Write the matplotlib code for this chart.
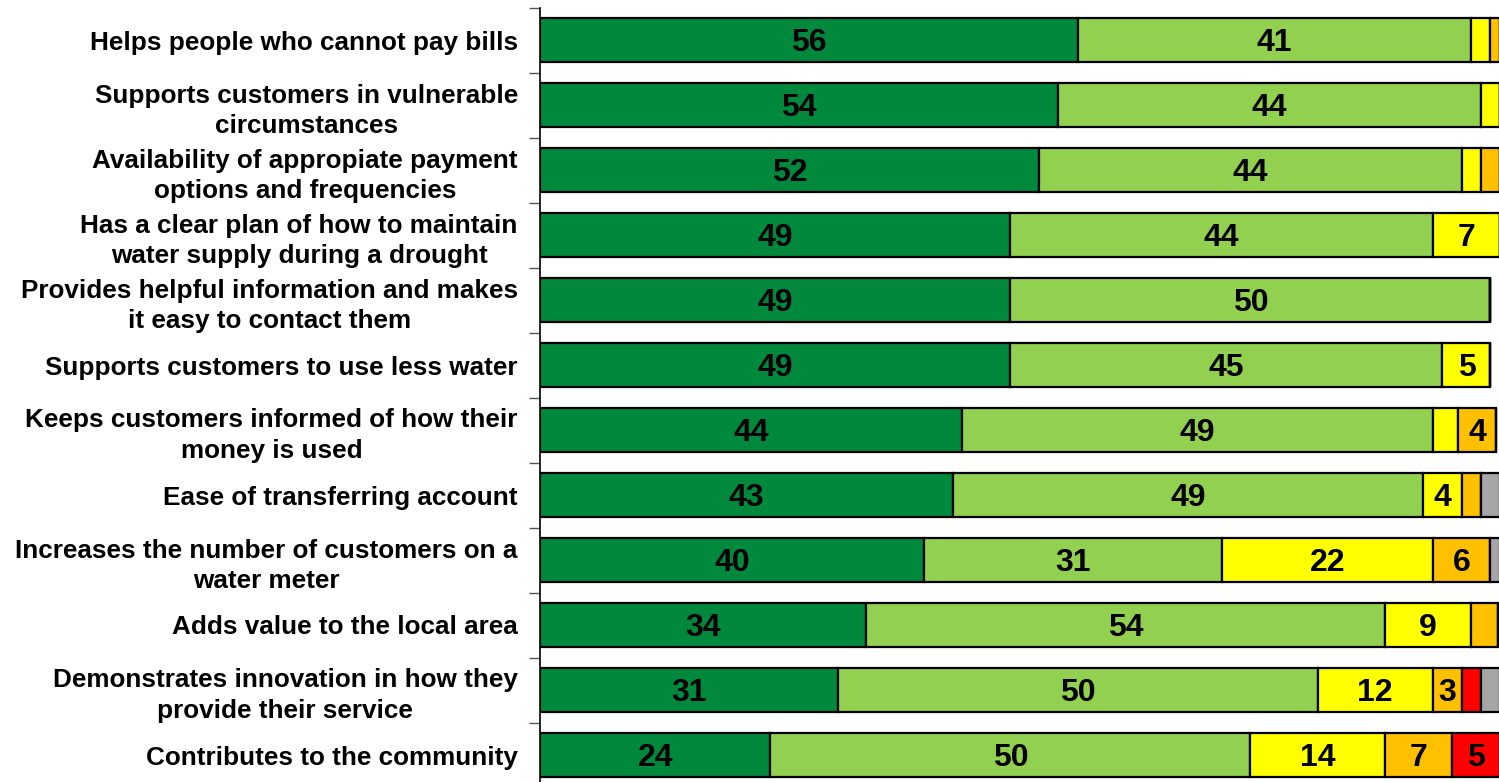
import matplotlib
matplotlib.use("Agg")
import matplotlib.pyplot as plt
import matplotlib.transforms as mtransforms
import numpy as np

categories = [
    "Helps people who cannot pay bills",
    "Supports customers in vulnerable\ncircumstances",
    "Availability of appropiate payment\noptions and frequencies",
    "Has a clear plan of how to maintain\nwater supply during a drought",
    "Provides helpful information and makes\nit easy to contact them",
    "Supports customers to use less water",
    "Keeps customers informed of how their\nmoney is used",
    "Ease of transferring account",
    "Increases the number of customers on a\nwater meter",
    "Adds value to the local area",
    "Demonstrates innovation in how they\nprovide their service",
    "Contributes to the community",
]

very_good = [56, 54, 52, 49, 49, 49, 44, 43, 40, 34, 31, 24]
fairly_good = [41, 44, 44, 44, 50, 45, 49, 49, 31, 54, 50, 50]
neutral = [2, 2, 2, 7, 0, 5, 2.6, 4, 22, 9, 12, 14]
fairly_poor = [1, 0, 2, 0, 0, 0, 4, 2, 6, 2.8, 3, 7]
very_poor = [0, 0, 0, 0, 0, 0, 0, 0, 0, 0, 2, 5]
dont_know = [0, 0, 0, 0, 0, 0, 0, 2, 1, 0, 2, 0]

series = [very_good, fairly_good, neutral, fairly_poor, very_poor, dont_know]
colors = ["#00893D", "#92D050", "#FFFF00", "#FFC000", "#FF0000", "#A6A6A6"]

W, H = 1499, 782
fig = plt.figure(figsize=(W / 100, H / 100), dpi=100)
ax = fig.add_axes([540 / W, -5.5 / H, 960 / W, 780 / H])

# shift value labels down so the digits sit in the middle of the bar
down = mtransforms.offset_copy(ax.transData, fig=fig, x=0, y=-11, units="dots")

y = np.arange(len(categories))
left = np.zeros(len(categories))
for vals, col in zip(series, colors):
    vals = np.array(vals, dtype=float)
    ax.barh(y, vals, left=left, height=0.68, color=col,
            edgecolor="black", linewidth=1.6, zorder=2)
    for yi, (l, v) in enumerate(zip(left, vals)):
        if v >= 3:
            ax.text(l + v / 2, yi, f"{v:g}", ha="center", va="baseline",
                    fontsize=23, fontweight="bold", color="black",
                    family="Liberation Sans", zorder=3, transform=down)
    left += vals

ax.set_xlim(0, 100)
ax.set_ylim(len(categories) - 0.5, -0.5)

# category boundaries carry the tick marks, names sit between them
ax.set_yticks(np.arange(len(categories) + 1) - 0.5)
ax.set_yticklabels([])
ax.set_yticks(y, minor=True)
ax.set_yticklabels(categories, minor=True, fontsize=18.8, fontweight="bold",
                   family="Liberation Sans", linespacing=1.32)
ax.tick_params(axis="y", which="major", direction="out", length=8,
               width=1, color="#555555")
ax.tick_params(axis="y", which="minor", length=0, pad=16)
for lab in ax.get_yticklabels(minor=True):
    lab.set_horizontalalignment("right")
    lab.set_multialignment("center")

ax.set_xticks([])
for s in ["top", "right", "bottom"]:
    ax.spines[s].set_visible(False)
ax.spines["left"].set_linewidth(1.2)
ax.spines["left"].set_color("black")

fig.savefig("out.png", dpi=100)
